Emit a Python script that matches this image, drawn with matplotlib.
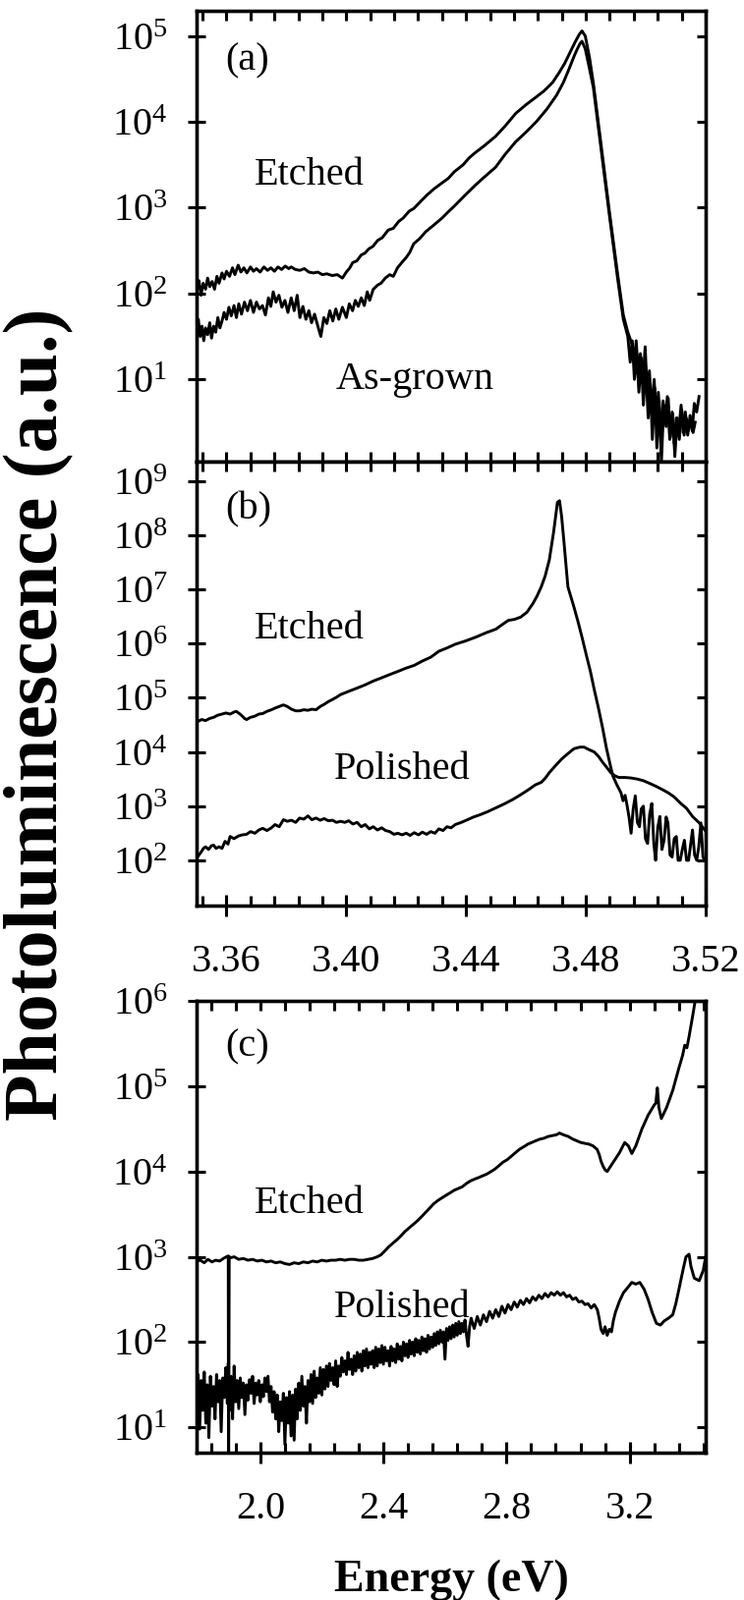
import numpy as np
import matplotlib
matplotlib.use("Agg")
import matplotlib.pyplot as plt
from matplotlib.ticker import MultipleLocator, NullLocator, FixedLocator, LogFormatterSciNotation, FormatStrFormatter

plt.rcParams['font.family'] = ['Liberation Serif', 'DejaVu Serif']
plt.rcParams['mathtext.fontset'] = 'custom'
plt.rcParams['mathtext.rm'] = 'Liberation Serif'
plt.rcParams['mathtext.it'] = 'Liberation Serif:italic'
plt.rcParams['mathtext.default'] = 'regular'

# ---- data: (energy eV, log10 PL intensity) ----
a_etched = [
    (3.3500, 2.02), (3.3508, 2.15), (3.3515, 1.98), (3.3522, 2.12), (3.3530, 2.05), (3.3537, 2.18),
    (3.3544, 2.08), (3.3552, 2.14), (3.3560, 2.05), (3.3568, 2.20), (3.3575, 2.12), (3.3585, 2.24),
    (3.3592, 2.17), (3.3600, 2.26), (3.3610, 2.20), (3.3620, 2.30), (3.3628, 2.22), (3.3639, 2.33),
    (3.3648, 2.25), (3.3658, 2.30), (3.3668, 2.24), (3.3680, 2.31), (3.3690, 2.26), (3.3700, 2.29),
    (3.3712, 2.25), (3.3725, 2.31), (3.3737, 2.27), (3.3748, 2.30), (3.3760, 2.26), (3.3772, 2.31),
    (3.3784, 2.28), (3.3796, 2.32), (3.3808, 2.29), (3.3816, 2.31), (3.3830, 2.28), (3.3845, 2.27),
    (3.3860, 2.29), (3.3875, 2.25), (3.3890, 2.24), (3.3905, 2.25), (3.3920, 2.22), (3.3935, 2.23),
    (3.3953, 2.21), (3.3970, 2.22), (3.3987, 2.18), (3.4000, 2.25), (3.4012, 2.30), (3.4021, 2.36),
    (3.4035, 2.38), (3.4050, 2.45), (3.4062, 2.47), (3.4075, 2.52), (3.4089, 2.55), (3.4105, 2.62),
    (3.4120, 2.65), (3.4140, 2.74), (3.4157, 2.76), (3.4175, 2.84), (3.4190, 2.88), (3.4210, 2.96),
    (3.4225, 2.99), (3.4250, 3.08), (3.4270, 3.15), (3.4293, 3.22), (3.4320, 3.29), (3.4340, 3.34),
    (3.4361, 3.42), (3.4390, 3.50), (3.4410, 3.58), (3.4430, 3.64), (3.4460, 3.72), (3.4498, 3.83),
    (3.4530, 3.95), (3.4566, 4.10), (3.4600, 4.20), (3.4634, 4.29), (3.4660, 4.36), (3.4689, 4.46),
    (3.4710, 4.57), (3.4729, 4.68), (3.4750, 4.83), (3.4764, 4.93), (3.4778, 5.02), (3.4787, 5.06),
    (3.4798, 5.00), (3.4812, 4.75), (3.4825, 4.45), (3.4852, 3.70), (3.4879, 2.94), (3.4907, 2.20),
    (3.4925, 1.75), (3.4940, 1.55), (3.4955, 1.40), (3.4962, 1.22), (3.4968, 1.45), (3.4975, 1.05),
    (3.4982, 1.30), (3.4990, 0.95), (3.4998, 1.38), (3.5005, 0.80), (3.5012, 1.10), (3.5020, 0.62),
    (3.5028, 1.00), (3.5035, 0.55), (3.5042, 0.85), (3.5050, 0.35), (3.5058, 0.75), (3.5065, 0.48),
    (3.5072, 0.80), (3.5080, 0.30), (3.5088, 0.62), (3.5095, 0.25), (3.5102, 0.55), (3.5110, 0.40),
    (3.5118, 0.70), (3.5125, 0.38), (3.5132, 0.62), (3.5140, 0.35), (3.5148, 0.58), (3.5155, 0.40),
    (3.5162, 0.72), (3.5170, 0.62), (3.5178, 0.80),
]
a_asgrown = [
    (3.3500, 1.55), (3.3506, 1.70), (3.3512, 1.50), (3.3518, 1.62), (3.3524, 1.45), (3.3530, 1.60),
    (3.3537, 1.52), (3.3544, 1.66), (3.3550, 1.48), (3.3557, 1.62), (3.3564, 1.55), (3.3571, 1.72),
    (3.3578, 1.60), (3.3585, 1.68), (3.3592, 1.78), (3.3600, 1.70), (3.3608, 1.84), (3.3616, 1.74),
    (3.3625, 1.86), (3.3633, 1.72), (3.3641, 1.88), (3.3650, 1.76), (3.3660, 1.90), (3.3670, 1.80),
    (3.3680, 1.92), (3.3690, 1.78), (3.3700, 1.90), (3.3710, 1.82), (3.3720, 1.86), (3.3730, 1.75),
    (3.3740, 1.95), (3.3748, 1.85), (3.3756, 2.02), (3.3765, 1.90), (3.3775, 1.98), (3.3785, 1.84),
    (3.3795, 1.92), (3.3805, 1.78), (3.3816, 1.95), (3.3826, 1.80), (3.3836, 1.98), (3.3845, 1.72),
    (3.3855, 1.85), (3.3865, 1.70), (3.3875, 1.80), (3.3884, 1.66), (3.3894, 1.76), (3.3905, 1.62),
    (3.3915, 1.50), (3.3925, 1.72), (3.3935, 1.65), (3.3945, 1.80), (3.3955, 1.68), (3.3965, 1.82),
    (3.3975, 1.70), (3.3987, 1.84), (3.4000, 1.72), (3.4010, 1.88), (3.4021, 1.80), (3.4030, 1.92),
    (3.4040, 1.85), (3.4050, 1.95), (3.4060, 1.86), (3.4070, 2.02), (3.4078, 1.92), (3.4090, 2.05),
    (3.4105, 2.10), (3.4116, 2.12), (3.4130, 2.18), (3.4145, 2.22), (3.4157, 2.20), (3.4171, 2.30),
    (3.4185, 2.36), (3.4200, 2.42), (3.4212, 2.48), (3.4225, 2.58), (3.4245, 2.64), (3.4265, 2.72),
    (3.4293, 2.80), (3.4320, 2.88), (3.4340, 2.95), (3.4361, 3.02), (3.4395, 3.14), (3.4430, 3.26),
    (3.4465, 3.37), (3.4498, 3.47), (3.4530, 3.62), (3.4566, 3.77), (3.4600, 3.88), (3.4634, 4.00),
    (3.4670, 4.15), (3.4702, 4.31), (3.4725, 4.46), (3.4743, 4.61), (3.4760, 4.76), (3.4770, 4.84),
    (3.4780, 4.91), (3.4787, 4.94), (3.4798, 4.85), (3.4812, 4.62), (3.4825, 4.40), (3.4852, 3.65),
    (3.4879, 2.90), (3.4907, 2.15), (3.4925, 1.70), (3.4940, 1.50), (3.4948, 1.20), (3.4955, 1.45),
    (3.4962, 1.00), (3.4970, 1.30), (3.4977, 0.85), (3.4985, 1.25), (3.4992, 0.70), (3.5000, 1.15),
    (3.5008, 0.55), (3.5015, 0.95), (3.5022, 0.30), (3.5030, 0.90), (3.5037, 0.20), (3.5045, 0.75),
    (3.5052, 0.02), (3.5060, 0.70), (3.5068, 0.45), (3.5075, 0.78), (3.5082, 0.32), (3.5090, 0.60),
    (3.5097, 0.10), (3.5105, 0.55), (3.5112, 0.30), (3.5120, 0.65), (3.5128, 0.35), (3.5135, 0.55),
    (3.5142, 0.40), (3.5150, 0.52), (3.5158, 0.38), (3.5165, 0.50),
]
b_etched = [
    (3.3503, 4.56), (3.3517, 4.60), (3.3530, 4.58), (3.3544, 4.62), (3.3557, 4.64), (3.3571, 4.68),
    (3.3585, 4.70), (3.3598, 4.72), (3.3612, 4.70), (3.3626, 4.74), (3.3633, 4.75), (3.3645, 4.70),
    (3.3653, 4.66), (3.3660, 4.62), (3.3667, 4.60), (3.3680, 4.64), (3.3694, 4.66), (3.3708, 4.70),
    (3.3721, 4.71), (3.3735, 4.75), (3.3750, 4.78), (3.3762, 4.81), (3.3776, 4.84), (3.3790, 4.87),
    (3.3803, 4.84), (3.3817, 4.79), (3.3831, 4.76), (3.3844, 4.76), (3.3858, 4.78), (3.3872, 4.77),
    (3.3885, 4.79), (3.3899, 4.78), (3.3913, 4.84), (3.3926, 4.88), (3.3940, 4.93), (3.3954, 4.97),
    (3.3967, 5.01), (3.3981, 5.06), (3.4008, 5.12), (3.4036, 5.18), (3.4063, 5.24), (3.4090, 5.31),
    (3.4118, 5.37), (3.4145, 5.43), (3.4173, 5.49), (3.4200, 5.55), (3.4227, 5.60), (3.4254, 5.68),
    (3.4282, 5.75), (3.4309, 5.86), (3.4336, 5.92), (3.4364, 5.99), (3.4398, 6.05), (3.4432, 6.12),
    (3.4466, 6.20), (3.4500, 6.27), (3.4520, 6.35), (3.4541, 6.43), (3.4562, 6.45), (3.4582, 6.49),
    (3.4603, 6.58), (3.4623, 6.74), (3.4637, 6.88), (3.4651, 7.05), (3.4664, 7.25), (3.4678, 7.55),
    (3.4692, 8.05), (3.4705, 8.61), (3.4712, 8.64), (3.4719, 8.35), (3.4726, 7.93), (3.4740, 7.05),
    (3.4760, 6.68), (3.4774, 6.40), (3.4787, 6.12), (3.4801, 5.80), (3.4815, 5.49), (3.4828, 5.15),
    (3.4842, 4.81), (3.4856, 4.44), (3.4869, 4.06), (3.4883, 3.72), (3.4890, 3.56), (3.4903, 3.40),
    (3.4917, 3.25), (3.4924, 3.10), (3.4931, 3.20), (3.4938, 3.00), (3.4944, 2.80), (3.4951, 2.50),
    (3.4958, 2.95), (3.4965, 3.19), (3.4972, 2.70), (3.4979, 2.62), (3.4985, 2.95), (3.4992, 3.00),
    (3.4999, 2.40), (3.5006, 2.31), (3.5013, 2.85), (3.5020, 3.05), (3.5027, 2.30), (3.5033, 2.00),
    (3.5040, 2.60), (3.5047, 2.81), (3.5054, 2.20), (3.5061, 2.37), (3.5068, 2.80), (3.5074, 2.69),
    (3.5081, 2.10), (3.5088, 2.06), (3.5095, 2.40), (3.5102, 2.44), (3.5108, 2.00), (3.5115, 2.00),
    (3.5122, 2.20), (3.5129, 2.37), (3.5136, 2.00), (3.5143, 2.00), (3.5150, 2.30), (3.5156, 2.56),
    (3.5163, 2.10), (3.5170, 2.00), (3.5177, 2.25), (3.5184, 2.69), (3.5191, 2.06), (3.5197, 2.00),
]
b_polished = [
    (3.3503, 2.06), (3.3515, 2.15), (3.3523, 2.22), (3.3530, 2.25), (3.3540, 2.20), (3.3550, 2.27),
    (3.3557, 2.28), (3.3565, 2.22), (3.3575, 2.25), (3.3585, 2.22), (3.3595, 2.35), (3.3605, 2.30),
    (3.3612, 2.44), (3.3625, 2.40), (3.3640, 2.45), (3.3653, 2.47), (3.3667, 2.48), (3.3680, 2.53),
    (3.3695, 2.50), (3.3708, 2.56), (3.3721, 2.59), (3.3735, 2.55), (3.3750, 2.60), (3.3762, 2.66),
    (3.3776, 2.62), (3.3790, 2.75), (3.3803, 2.72), (3.3817, 2.74), (3.3831, 2.70), (3.3844, 2.78),
    (3.3858, 2.76), (3.3872, 2.82), (3.3885, 2.75), (3.3899, 2.78), (3.3913, 2.74), (3.3926, 2.77),
    (3.3940, 2.73), (3.3954, 2.74), (3.3967, 2.70), (3.3981, 2.72), (3.3995, 2.70), (3.4008, 2.73),
    (3.4022, 2.67), (3.4036, 2.70), (3.4050, 2.62), (3.4063, 2.66), (3.4077, 2.58), (3.4090, 2.62),
    (3.4104, 2.56), (3.4118, 2.60), (3.4131, 2.55), (3.4145, 2.53), (3.4159, 2.48), (3.4172, 2.50),
    (3.4186, 2.47), (3.4200, 2.50), (3.4213, 2.46), (3.4227, 2.51), (3.4241, 2.47), (3.4254, 2.52),
    (3.4268, 2.48), (3.4282, 2.53), (3.4296, 2.50), (3.4309, 2.58), (3.4323, 2.55), (3.4336, 2.62),
    (3.4350, 2.60), (3.4364, 2.66), (3.4384, 2.70), (3.4405, 2.75), (3.4425, 2.80), (3.4446, 2.84),
    (3.4473, 2.90), (3.4500, 2.97), (3.4527, 3.04), (3.4555, 3.12), (3.4582, 3.21), (3.4610, 3.31),
    (3.4630, 3.39), (3.4651, 3.44), (3.4665, 3.52), (3.4678, 3.62), (3.4699, 3.75), (3.4719, 3.87),
    (3.4740, 3.97), (3.4760, 4.06), (3.4780, 4.09), (3.4794, 4.09), (3.4808, 4.05), (3.4828, 4.00),
    (3.4842, 3.92), (3.4856, 3.81), (3.4869, 3.72), (3.4883, 3.62), (3.4897, 3.56), (3.4910, 3.53),
    (3.4930, 3.53), (3.4951, 3.52), (3.4972, 3.50), (3.4992, 3.47), (3.5013, 3.42), (3.5033, 3.37),
    (3.5054, 3.31), (3.5074, 3.25), (3.5095, 3.17), (3.5115, 3.06), (3.5136, 2.96), (3.5156, 2.81),
    (3.5177, 2.70), (3.5197, 2.56),
]
c_etched = [
    (1.793, 2.95), (1.805, 2.96), (1.818, 2.93), (1.830, 2.97), (1.843, 2.94), (1.855, 2.96),
    (1.868, 2.95), (1.880, 2.98), (1.890, 3.00), (1.896, 3.01), (1.897, 0.00), (1.899, 3.00),
    (1.905, 2.99), (1.915, 3.00), (1.930, 2.97), (1.945, 2.98), (1.960, 2.96), (1.975, 2.97),
    (1.990, 2.95), (2.005, 2.96), (2.020, 2.94), (2.035, 2.95), (2.050, 2.93), (2.065, 2.94),
    (2.080, 2.92), (2.095, 2.91), (2.110, 2.93), (2.125, 2.92), (2.140, 2.94), (2.155, 2.93),
    (2.170, 2.95), (2.185, 2.94), (2.200, 2.96), (2.215, 2.95), (2.230, 2.96), (2.245, 2.96),
    (2.260, 2.97), (2.275, 2.96), (2.290, 2.97), (2.305, 2.97), (2.320, 2.96), (2.335, 2.96),
    (2.350, 2.97), (2.365, 2.98), (2.380, 3.00), (2.391, 3.02), (2.405, 3.07), (2.418, 3.12),
    (2.431, 3.16), (2.444, 3.20), (2.458, 3.25), (2.471, 3.30), (2.484, 3.34), (2.497, 3.38),
    (2.510, 3.42), (2.524, 3.47), (2.537, 3.52), (2.550, 3.57), (2.563, 3.62), (2.577, 3.66),
    (2.590, 3.69), (2.603, 3.72), (2.617, 3.75), (2.630, 3.78), (2.643, 3.80), (2.656, 3.82),
    (2.670, 3.86), (2.683, 3.89), (2.696, 3.91), (2.710, 3.93), (2.723, 3.95), (2.736, 3.97),
    (2.750, 4.00), (2.763, 4.03), (2.776, 4.07), (2.789, 4.11), (2.803, 4.14), (2.816, 4.18),
    (2.829, 4.22), (2.842, 4.26), (2.856, 4.29), (2.869, 4.32), (2.882, 4.34), (2.895, 4.36),
    (2.909, 4.38), (2.922, 4.39), (2.935, 4.41), (2.948, 4.42), (2.962, 4.43), (2.972, 4.45),
    (2.985, 4.43), (3.001, 4.41), (3.015, 4.38), (3.028, 4.36), (3.041, 4.34), (3.054, 4.33),
    (3.068, 4.32), (3.081, 4.30), (3.094, 4.26), (3.101, 4.20), (3.107, 4.12), (3.114, 4.06),
    (3.120, 4.02), (3.127, 4.00), (3.147, 4.11), (3.167, 4.22), (3.184, 4.34), (3.196, 4.30),
    (3.207, 4.21), (3.220, 4.30), (3.240, 4.50), (3.260, 4.66), (3.280, 4.78), (3.285, 4.80),
    (3.290, 4.98), (3.295, 4.75), (3.303, 4.62), (3.320, 4.75), (3.340, 4.95), (3.359, 5.20),
    (3.372, 5.36), (3.379, 5.48), (3.386, 5.45), (3.393, 5.58), (3.406, 5.85), (3.415, 6.05),
]
c_polished = [
    (1.793, 1.30), (1.798, 1.62), (1.803, 0.98), (1.808, 1.55), (1.813, 1.20), (1.818, 1.65),
    (1.823, 1.05), (1.828, 1.50), (1.833, 0.88), (1.838, 1.60), (1.843, 1.25), (1.848, 1.48),
    (1.853, 1.10), (1.858, 1.62), (1.863, 1.30), (1.868, 1.55), (1.873, 0.95), (1.878, 1.58),
    (1.883, 1.35), (1.888, 1.70), (1.893, 1.28), (1.896, 1.75), (1.900, 1.20), (1.905, 1.60),
    (1.910, 1.10), (1.915, 1.72), (1.920, 1.30), (1.925, 1.55), (1.930, 1.22), (1.935, 1.58),
    (1.940, 1.35), (1.945, 1.52), (1.950, 1.15), (1.955, 1.50), (1.960, 1.32), (1.965, 1.56),
    (1.970, 1.40), (1.975, 1.60), (1.980, 1.28), (1.985, 1.52), (1.990, 1.38), (1.995, 1.55),
    (2.000, 1.30), (2.005, 1.50), (2.010, 1.36), (2.015, 1.58), (2.020, 1.42), (2.025, 1.60),
    (2.030, 1.30), (2.035, 1.48), (2.040, 1.18), (2.045, 1.42), (2.050, 1.10), (2.055, 1.38),
    (2.060, 0.95), (2.065, 1.30), (2.070, 1.08), (2.075, 1.40), (2.080, 0.80), (2.085, 1.35),
    (2.090, 1.05), (2.095, 1.42), (2.100, 0.90), (2.105, 1.38), (2.110, 0.85), (2.115, 1.45),
    (2.120, 1.10), (2.125, 1.52), (2.130, 1.20), (2.135, 1.60), (2.140, 1.25), (2.145, 1.48),
    (2.150, 1.05), (2.155, 1.55), (2.160, 1.30), (2.165, 1.62), (2.170, 1.28), (2.175, 1.66),
    (2.180, 1.35), (2.185, 1.58), (2.190, 1.40), (2.195, 1.70), (2.200, 1.38), (2.205, 1.68),
    (2.210, 1.45), (2.215, 1.72), (2.220, 1.48), (2.225, 1.75), (2.230, 1.55), (2.235, 1.70),
    (2.240, 1.50), (2.245, 1.78), (2.250, 1.48), (2.255, 1.72), (2.260, 1.60), (2.265, 1.82),
    (2.270, 1.65), (2.275, 1.78), (2.280, 1.62), (2.285, 1.88), (2.290, 1.68), (2.295, 1.80),
    (2.300, 1.62), (2.305, 1.84), (2.310, 1.66), (2.315, 1.88), (2.320, 1.70), (2.325, 1.86),
    (2.330, 1.66), (2.335, 1.90), (2.340, 1.72), (2.345, 1.92), (2.350, 1.70), (2.355, 1.88),
    (2.360, 1.74), (2.365, 1.90), (2.370, 1.70), (2.375, 1.94), (2.380, 1.72), (2.385, 1.92),
    (2.390, 1.76), (2.395, 1.96), (2.400, 1.74), (2.405, 1.94), (2.410, 1.78), (2.415, 1.90),
    (2.420, 1.72), (2.425, 1.95), (2.430, 1.78), (2.435, 1.92), (2.440, 1.76), (2.445, 1.98),
    (2.450, 1.80), (2.455, 1.95), (2.460, 1.78), (2.465, 2.00), (2.470, 1.84), (2.475, 1.98),
    (2.480, 1.82), (2.485, 2.02), (2.490, 1.86), (2.495, 2.00), (2.500, 1.84), (2.505, 2.04),
    (2.510, 1.88), (2.515, 2.02), (2.520, 1.86), (2.525, 2.06), (2.530, 1.90), (2.535, 2.04),
    (2.540, 1.88), (2.545, 2.08), (2.550, 1.92), (2.555, 2.06), (2.560, 1.94), (2.565, 2.10),
    (2.570, 1.96), (2.575, 2.12), (2.580, 1.98), (2.585, 2.14), (2.590, 2.00), (2.595, 2.12),
    (2.600, 1.80), (2.605, 2.16), (2.610, 2.02), (2.615, 2.18), (2.620, 2.04), (2.625, 2.20),
    (2.630, 2.06), (2.635, 2.22), (2.640, 2.08), (2.645, 2.24), (2.650, 2.10), (2.655, 2.22),
    (2.660, 2.12), (2.665, 2.26), (2.670, 2.08), (2.675, 1.95), (2.680, 2.18), (2.685, 2.28),
    (2.695, 2.16), (2.705, 2.30), (2.715, 2.20), (2.725, 2.32), (2.735, 2.24), (2.745, 2.36),
    (2.755, 2.28), (2.765, 2.38), (2.775, 2.30), (2.785, 2.42), (2.795, 2.34), (2.805, 2.44),
    (2.815, 2.38), (2.825, 2.47), (2.835, 2.41), (2.845, 2.49), (2.855, 2.44), (2.865, 2.51),
    (2.875, 2.46), (2.885, 2.53), (2.895, 2.49), (2.905, 2.55), (2.915, 2.51), (2.925, 2.57),
    (2.935, 2.53), (2.945, 2.58), (2.955, 2.55), (2.965, 2.59), (2.975, 2.55), (2.985, 2.58),
    (2.995, 2.53), (3.005, 2.55), (3.015, 2.50), (3.025, 2.52), (3.035, 2.47), (3.045, 2.48),
    (3.055, 2.44), (3.065, 2.45), (3.075, 2.40), (3.085, 2.44), (3.095, 2.38), (3.101, 2.28),
    (3.107, 2.15), (3.114, 2.10), (3.120, 2.18), (3.127, 2.08), (3.134, 2.15), (3.141, 2.12),
    (3.147, 2.25), (3.154, 2.35), (3.167, 2.48), (3.180, 2.58), (3.194, 2.64), (3.207, 2.70),
    (3.220, 2.68), (3.233, 2.70), (3.247, 2.62), (3.260, 2.50), (3.273, 2.35), (3.287, 2.22),
    (3.300, 2.20), (3.313, 2.25), (3.326, 2.28), (3.340, 2.32), (3.350, 2.45), (3.359, 2.60),
    (3.373, 2.84), (3.383, 3.00), (3.393, 3.03), (3.399, 2.89), (3.410, 2.75), (3.426, 2.72),
    (3.439, 2.84), (3.447, 3.00),
]

a_yticks = [1e1, 1e2, 1e3, 1e4, 1e5]
b_yticks = [1e2, 1e3, 1e4, 1e5, 1e6, 1e7, 1e8, 1e9]
c_yticks = [1e1, 1e2, 1e3, 1e4, 1e5, 1e6]
b_xticks = [3.36, 3.40, 3.44, 3.48, 3.52]
c_xticks = [2.0, 2.4, 2.8, 3.2]

LW = 2.1
fig = plt.figure(figsize=(7.57, 16.29), dpi=100)
L, W = 200 / 757, 518 / 757


def panel(bottom_px, top_px, yticks):
    ax = fig.add_axes([L, 1 - bottom_px / 1629, W, (bottom_px - top_px) / 1629])
    ax.set_yscale('log')
    for s in ax.spines.values():
        s.set_linewidth(2.4)
    ax.yaxis.set_major_locator(FixedLocator(yticks))
    ax.yaxis.set_minor_locator(NullLocator())
    ax.yaxis.set_major_formatter(LogFormatterSciNotation())
    ax.tick_params(axis='y', which='major', direction='inout', length=12.5, width=2.2,
                   labelsize=29, pad=15, right=False)
    return ax


def right_ticks(ax, yticks):
    ax2 = ax.twinx()
    ax2.set_yscale('log')
    ax2.set_ylim(ax.get_ylim())
    ax2.yaxis.set_major_locator(FixedLocator(yticks))
    ax2.yaxis.set_minor_locator(NullLocator())
    ax2.tick_params(axis='y', direction='in', length=6.5, width=2.2, labelright=False)
    for s in ax2.spines.values():
        s.set_linewidth(2.4)


def xaxis_style(ax, major, minor, fmt):
    ax.xaxis.remove_overlapping_locs = False
    ax.xaxis.set_major_locator(FixedLocator(major))
    ax.xaxis.set_minor_locator(MultipleLocator(minor))
    ax.xaxis.set_major_formatter(FormatStrFormatter(fmt))
    ax.tick_params(axis='x', which='major', direction='inout', length=15.5, width=2.2,
                   labelsize=29, pad=20, top=False)
    ax.tick_params(axis='x', which='minor', direction='in', length=7, width=2.2,
                   top=True, bottom=True)


def draw(ax, series):
    arr = np.array(series)
    ax.plot(arr[:, 0], 10.0 ** arr[:, 1], color='black', lw=LW)


def label(ax, x, y, s, ha='center'):
    ax.text(x, y, s, transform=ax.transAxes, fontsize=29, va='center', ha=ha)


# (a)
ax_a = panel(470, 11, a_yticks)
draw(ax_a, a_etched)
draw(ax_a, a_asgrown)
ax_a.set_xlim(3.35, 3.52)
ax_a.set_ylim(1.1, 1.97e5)
ax_a.xaxis.set_major_locator(MultipleLocator(0.008))
ax_a.xaxis.set_minor_locator(NullLocator())
ax_a.tick_params(axis='x', direction='in', length=7, width=2.2, top=True, bottom=True,
                 labelbottom=False)
right_ticks(ax_a, a_yticks)
label(ax_a, 0.056, 0.889, '(a)', ha='left')
label(ax_a, 0.222, 0.634, 'Etched')
label(ax_a, 0.429, 0.183, 'As-grown')

# (b)
ax_b = panel(922.3, 470, b_yticks)
draw(ax_b, b_etched)
draw(ax_b, b_polished)
ax_b.set_xlim(3.35, 3.52)
ax_b.set_ylim(14.4, 2.3e9)
xaxis_style(ax_b, b_xticks, 0.008, '%.2f')
right_ticks(ax_b, b_yticks)
label(ax_b, 0.056, 0.892, '(b)', ha='left')
label(ax_b, 0.222, 0.622, 'Etched')
label(ax_b, 0.404, 0.306, 'Polished')

# (c)
ax_c = panel(1479, 1019, c_yticks)
draw(ax_c, c_etched)
draw(ax_c, c_polished)
ax_c.set_xlim(1.793, 3.447)
ax_c.set_ylim(5.06, 1e6)
xaxis_style(ax_c, c_xticks, 0.08, '%.1f')
right_ticks(ax_c, c_yticks)
label(ax_c, 0.056, 0.898, '(c)', ha='left')
label(ax_c, 0.222, 0.552, 'Etched')
label(ax_c, 0.404, 0.320, 'Polished')

fig.text(459 / 757, 9 / 1629, 'Energy (eV)', fontsize=33, fontweight='bold',
         ha='center', va='baseline')
fig.text(40 / 757, 1 - 727 / 1629, 'Photoluminescence (a.u.)', fontsize=56,
         fontweight='bold', rotation=90, ha='center', va='center')

fig.savefig('out.png', dpi=100)
